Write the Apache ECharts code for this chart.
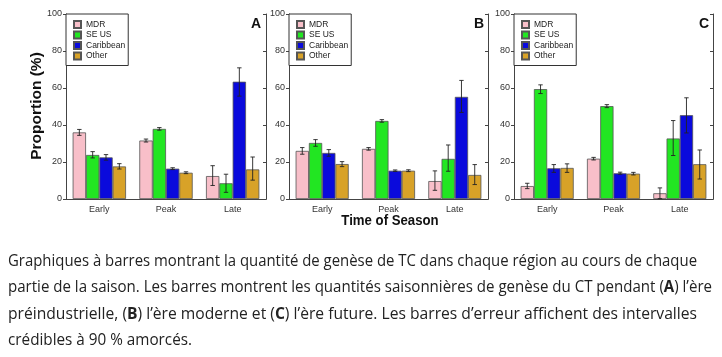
<!DOCTYPE html>
<html><head><meta charset="utf-8">
<script src="https://cdn.jsdelivr.net/npm/echarts@6/dist/echarts.min.js"></script>
<style>html,body{margin:0;padding:0;background:#fff}#c{width:722px;height:357px}</style>
</head><body><div id="c"></div>
<script>
const categories = ['Early', 'Peak', 'Late'];
const seriesNames = ['MDR', 'SE US', 'Caribbean', 'Other'];
const yTicks = [0, 20, 40, 60, 80, 100];
const panelLabels = ['A', 'B', 'C'];
const captionLines = [
  [['Graphiques à barres montrant la quantité de genèse de TC dans chaque région au cours de chaque', false]],
  [['partie de la saison. Les barres montrent les quantités saisonnières de genèse du CT pendant (', false], ['A', true], [') l’ère', false]],
  [['préindustrielle, (', false], ['B', true], [') l’ère moderne et (', false], ['C', true], [') l’ère future. Les barres d’erreur affichent des intervalles', false]],
  [['crédibles à 90 % amorcés.', false]]
];

// Panel A (pre-industrial)
const A_MDR = [36, 31.6, 12.4];
const A_SEUS = [23.8, 37.9, 8.5];
const A_Carib = [22.5, 16.4, 63.4];
const A_Other = [17.6, 14.2, 16];
const A_lo = [[34.4, 30.8, 7.3], [22.2, 37.2, 3.6], [21, 15.9, 55.6], [16.2, 13.7, 10.2]];
const A_hi = [[37.6, 32.4, 18], [25.6, 38.6, 13.4], [24, 16.9, 70.9], [19.1, 14.7, 22.7]];
// Panel B (modern)
const B_MDR = [26, 27.1, 9.7];
const B_SEUS = [30.3, 42.2, 21.7];
const B_Carib = [24.9, 15.3, 55.2];
const B_Other = [18.9, 15.3, 13];
const B_lo = [[24.2, 26.4, 4.7], [28.5, 41.5, 15], [23.1, 14.9, 46.8], [17.5, 14.8, 7.8]];
const B_hi = [[27.8, 27.8, 15.2], [32.1, 42.9, 29.2], [26.7, 15.7, 64.1], [20.2, 15.8, 18.6]];
// Panel C (future)
const C_MDR = [7, 21.8, 3.1];
const C_SEUS = [59.4, 50.2, 32.7];
const C_Carib = [16.6, 13.9, 45.3];
const C_Other = [16.8, 13.7, 18.8];
const C_lo = [[5.6, 21.1, 0.2], [57, 49.4, 23.5], [14.4, 13.4, 35.7], [14.4, 13, 10.8]];
const C_hi = [[8.5, 22.5, 6], [61.7, 51, 42.4], [18.6, 14.5, 54.7], [19, 14.4, 26.5]];

const panels = [
  {vals: [A_MDR, A_SEUS, A_Carib, A_Other], lo: A_lo, hi: A_hi, left: 66, width: 200, letterX: 256},
  {vals: [B_MDR, B_SEUS, B_Carib, B_Other], lo: B_lo, hi: B_hi, left: 289, width: 199, letterX: 479},
  {vals: [C_MDR, C_SEUS, C_Carib, C_Other], lo: C_lo, hi: C_hi, left: 514, width: 199, letterX: 704}
];
const colors = ['#F8BFC9', '#22E622', '#0A0ADC', '#D8A228'];
const FONT = 'Liberation Sans, Arial, sans-serif';

const grid = [], xAxis = [], yAxis = [], series = [], legend = [], graphic = [];
panels.forEach((p, i) => {
  grid.push({left: p.left, top: 14, width: p.width, height: 185, show: false});
  xAxis.push({
    type: 'category', gridIndex: i, data: categories,
    axisLine: {show: true, lineStyle: {color: '#444', width: 1}},
    axisTick: {show: false},
    axisLabel: {fontSize: 9, color: '#333', fontFamily: FONT, margin: 6}
  });
  xAxis.push({
    type: 'category', gridIndex: i, data: categories, position: 'top',
    axisLine: {show: true, lineStyle: {color: '#444', width: 1}},
    axisTick: {show: false}, axisLabel: {show: false}
  });
  yAxis.push({
    type: 'value', gridIndex: i, min: 0, max: 100, interval: 20,
    axisLine: {show: true, lineStyle: {color: '#444', width: 1}},
    axisTick: {show: true, length: 3, lineStyle: {color: '#444'}},
    splitLine: {show: false},
    axisLabel: {fontSize: 9, color: '#333', fontFamily: FONT, margin: 4,
      formatter: v => yTicks.includes(v) ? String(v) : ''}
  });
  yAxis.push({
    type: 'value', gridIndex: i, min: 0, max: 100, interval: 20, position: 'right',
    axisLine: {show: true, lineStyle: {color: '#444', width: 1}},
    axisTick: {show: true, inside: true, length: 3, lineStyle: {color: '#444'}},
    splitLine: {show: false}, axisLabel: {show: false}
  });
  seriesNames.forEach((n, s) => {
    series.push({
      type: 'bar', name: n, xAxisIndex: 2 * i, yAxisIndex: 2 * i, data: p.vals[s],
      barGap: '0%', barCategoryGap: '20%',
      itemStyle: {color: colors[s], borderColor: '#555', borderWidth: 0.8},
      emphasis: {disabled: true}
    });
  });
  const errData = [];
  for (let s = 0; s < 4; s++) for (let c = 0; c < 3; c++) errData.push([c, p.lo[s][c], p.hi[s][c], s]);
  series.push({
    type: 'custom', xAxisIndex: 2 * i, yAxisIndex: 2 * i, data: errData, z: 10,
    encode: {x: 0, y: [1, 2]},
    renderItem: (params, api) => {
      const c = api.value(0), lo = api.value(1), hi = api.value(2), s = api.value(3);
      const band = api.size([1, 0])[0];
      const bw = band * 0.8 / 4;
      const x = api.coord([c, 0])[0] + (s - 1.5) * bw;
      const yl = api.coord([c, lo])[1], yh = api.coord([c, hi])[1];
      const cap = 2.2;
      const st = {stroke: '#222', lineWidth: 0.9, fill: null};
      return {type: 'group', children: [
        {type: 'line', shape: {x1: x, y1: yl, x2: x, y2: yh}, style: st},
        {type: 'line', shape: {x1: x - cap, y1: yl, x2: x + cap, y2: yl}, style: st},
        {type: 'line', shape: {x1: x - cap, y1: yh, x2: x + cap, y2: yh}, style: st}
      ]};
    }
  });
  legend.push({
    data: seriesNames, orient: 'vertical', left: p.left, top: 14,
    borderColor: '#333', borderWidth: 1, backgroundColor: '#fff',
    padding: [6, 3, 5, 7], itemGap: 1.5, itemWidth: 7, itemHeight: 7, icon: 'rect',
    textStyle: {fontSize: 8.5, lineHeight: 8, color: '#222', fontFamily: FONT},
    selectedMode: false
  });
  graphic.push({type: 'text', x: p.letterX, y: 24,
    style: {text: panelLabels[i], font: 'bold 14px ' + FONT, fill: '#111', align: 'center', verticalAlign: 'middle'}});
});

// axis titles
graphic.push({type: 'text', x: 390, y: 221, scaleX: 0.88,
  style: {text: 'Time of Season', font: 'bold 15px ' + FONT, fill: '#111', align: 'center', verticalAlign: 'middle'}});
graphic.push({type: 'text', x: 37, y: 106, rotation: Math.PI / 2, scaleY: 0.9,
  style: {text: 'Proportion (%)', font: 'bold 15.5px ' + FONT, fill: '#111', align: 'center', verticalAlign: 'middle'}});

// caption
const capFamily = '"Open Sans", sans-serif';
const capSize = 16;
const lineEnds = [697, 712, 697, 192];
const lineY = [261.5, 287.5, 314, 340.5];
const ctx = document.createElement('canvas').getContext('2d');
captionLines.forEach((segs, li) => {
  let w = 0, txt = '';
  segs.forEach(([t, b]) => {
    ctx.font = (b ? 'bold ' : '') + capSize + 'px ' + capFamily;
    w += ctx.measureText(t).width;
    txt += b ? '{b|' + t + '}' : t;
  });
  const sx = (lineEnds[li] - 8) / w;
  graphic.push({type: 'text', x: 8, y: lineY[li], scaleX: sx,
    style: {text: txt, font: capSize + 'px ' + capFamily, fill: '#222', verticalAlign: 'middle',
      rich: {b: {fontWeight: 'bold', fontSize: capSize, fontFamily: capFamily, fill: '#222'}}}});
});

const chart = echarts.init(document.getElementById('c'), null, {renderer: 'canvas'});
chart.setOption({animation: false, grid, xAxis, yAxis, series, legend, graphic});
</script></body></html>
